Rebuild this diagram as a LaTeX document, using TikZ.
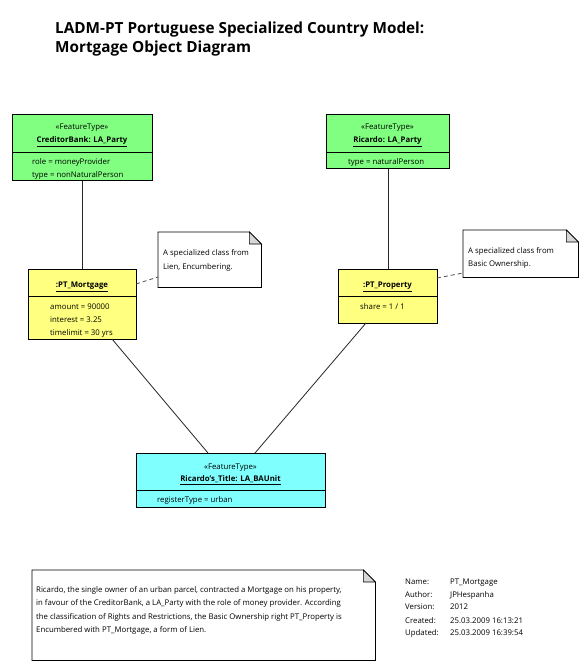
\documentclass[tikz,border=0pt]{standalone}
\usepackage{fontspec}
\setmainfont{Open Sans}
\definecolor{grn}{RGB}{128,255,128}
\definecolor{ylw}{RGB}{255,255,128}
\definecolor{cyn}{RGB}{128,255,255}
\definecolor{foldgray}{RGB}{215,215,215}
\tikzset{
  objbox/.style={draw=black, line width=0.8pt, inner sep=0pt, anchor=north west},
  notebox/.style={draw=none, inner sep=0pt, anchor=north west},
  divider/.style={draw=black, line width=0.8pt},
  link/.style={draw=black!85, line width=0.8pt},
  notelink/.style={draw=black!70, line width=0.8pt, dash pattern=on 4pt off 3pt},
  ctxt/.style={font=\fontsize{7.8}{9}\selectfont, inner sep=0pt, anchor=mid},
  ntxt/.style={font=\fontsize{7.8}{9}\selectfont\bfseries, inner sep=0pt, anchor=mid},
  ltxt/.style={font=\fontsize{7.8}{9}\selectfont, inner sep=0pt, anchor=mid west},
  ttl/.style={font=\fontsize{15.3}{18}\selectfont\bfseries, inner sep=0pt, anchor=base west},
}
\newcommand{\notefold}[1]{%
  \draw[line width=0.8pt, fill=white] (#1.north west) -- ([xshift=-12pt]#1.north east) -- ([yshift=-12pt]#1.north east) -- (#1.south east) -- (#1.south west) -- cycle;
  \draw[line width=0.6pt, fill=foldgray] ([xshift=-12pt]#1.north east) -- ([xshift=-12pt,yshift=-12pt]#1.north east) -- ([yshift=-12pt]#1.north east) -- cycle;
}
\begin{document}
\begin{tikzpicture}[x=1pt,y=-1pt]
\useasboundingbox[fill=white] (0,0) rectangle (588,670);

% title
\node[ttl] (t1) at (55,33.5) {LADM-PT Portuguese Specialized Country Model:};
\node[ttl] (t2) at (55,52.5) {Mortgage Object Diagram};

% boxes
\node[objbox, fill=grn, minimum width=140pt, minimum height=66pt] (cb) at (12,114) {};
\node[objbox, fill=grn, minimum width=123pt, minimum height=54pt] (ric) at (326,114) {};
\node[objbox, fill=ylw, minimum width=108pt, minimum height=70pt] (mort) at (28,269) {};
\node[objbox, fill=ylw, minimum width=99pt, minimum height=54pt] (prop) at (338,269) {};
\node[objbox, fill=cyn, minimum width=189pt, minimum height=54pt] (ba) at (136,453) {};

% dividers
\draw[divider] (cb.west |- 0,152) -- (cb.east |- 0,152);
\draw[divider] (ric.west |- 0,152) -- (ric.east |- 0,152);
\draw[divider] (mort.west |- 0,296) -- (mort.east |- 0,296);
\draw[divider] (prop.west |- 0,296) -- (prop.east |- 0,296);
\draw[divider] (ba.west |- 0,490) -- (ba.east |- 0,490);

% box texts
\node[ctxt] (cbs) at (82,127) {«FeatureType»};
\node[ntxt] (cbn) at (82,140) {\underline{CreditorBank: LA\_Party}};
\node[ltxt] (cba1) at (32,162) {role = moneyProvider};
\node[ltxt] (cba2) at (32,175) {type = nonNaturalPerson};

\node[ctxt] (rics) at (387.5,127) {«FeatureType»};
\node[ntxt] (ricn) at (387.5,140) {\underline{Ricardo: LA\_Party}};
\node[ltxt] (rica1) at (348,162) {type = naturalPerson};

\node[ntxt] (mortn) at (82,285) {\underline{:PT\_Mortgage}};
\node[ltxt] (morta1) at (50,307) {amount = 90000};
\node[ltxt] (morta2) at (50,320) {interest = 3.25};
\node[ltxt] (morta3) at (50,333) {timelimit = 30 yrs};

\node[ntxt] (propn) at (387.5,285) {\underline{:PT\_Property}};
\node[ltxt] (propa1) at (360,307) {share = 1 / 1};

\node[ctxt] (bas) at (230.5,467) {«FeatureType»};
\node[ntxt] (ban) at (230.5,479) {\underline{Ricardo's\_Title: LA\_BAUnit}};
\node[ltxt] (baa1) at (157,500) {registerType = urban};

% notes
\node[notebox, minimum width=103pt, minimum height=55pt] (n1) at (158,232) {};
\node[notebox, minimum width=115pt, minimum height=47pt] (n2) at (463,230) {};
\node[notebox, minimum width=343pt, minimum height=90pt] (n3) at (32,570) {};
\notefold{n1}
\notefold{n2}
\notefold{n3}
\node[ltxt] (n1a) at (163,253) {A specialized class from};
\node[ltxt] (n1b) at (163,267) {Lien, Encumbering.};
\node[ltxt] (n2a) at (468,251) {A specialized class from};
\node[ltxt] (n2b) at (468,264) {Basic Ownership.};
\node[ltxt] (n3a) at (36,590) {Ricardo, the single owner of an urban parcel, contracted a Mortgage on his property,};
\node[ltxt] (n3b) at (36,603) {in favour of the CreditorBank, a LA\_Party with the role of money provider. According};
\node[ltxt] (n3c) at (36,617) {the classification of Rights and Restrictions, the Basic Ownership right PT\_Property is};
\node[ltxt] (n3d) at (36,630) {Encumbered with PT\_Mortgage, a form of Lien.};

% connectors
\coordinate (m1) at (112,339);
\coordinate (b1) at (208,453);
\coordinate (p1) at (366,323);
\coordinate (b2) at (255,453);
\coordinate (md) at (136,284);
\coordinate (n1d) at (158,277);
\coordinate (pd) at (437,278);
\coordinate (n2d) at (463,273);
\draw[link] (cb.south) -- (mort.north);
\draw[link] (ric.south) -- (prop.north);
\draw[link] (m1) -- (b1);
\draw[link] (p1) -- (b2);
\draw[notelink] (md) -- (n1d);
\draw[notelink] (pd) -- (n2d);

% info
\node[ltxt] (l1) at (405,582) {Name:};
\node[ltxt] (l2) at (405,595) {Author:};
\node[ltxt] (l3) at (405,607) {Version:};
\node[ltxt] (l4) at (405,621) {Created:};
\node[ltxt] (l5) at (405,633) {Updated:};
\node[ltxt] (v1) at (450,582) {PT\_Mortgage};
\node[ltxt] (v2) at (450,595) {JPHespanha};
\node[ltxt] (v3) at (450,607) {2012};
\node[ltxt] (v4) at (450,621) {25.03.2009 16:13:21};
\node[ltxt] (v5) at (450,633) {25.03.2009 16:39:54};
\end{tikzpicture}
\end{document}
